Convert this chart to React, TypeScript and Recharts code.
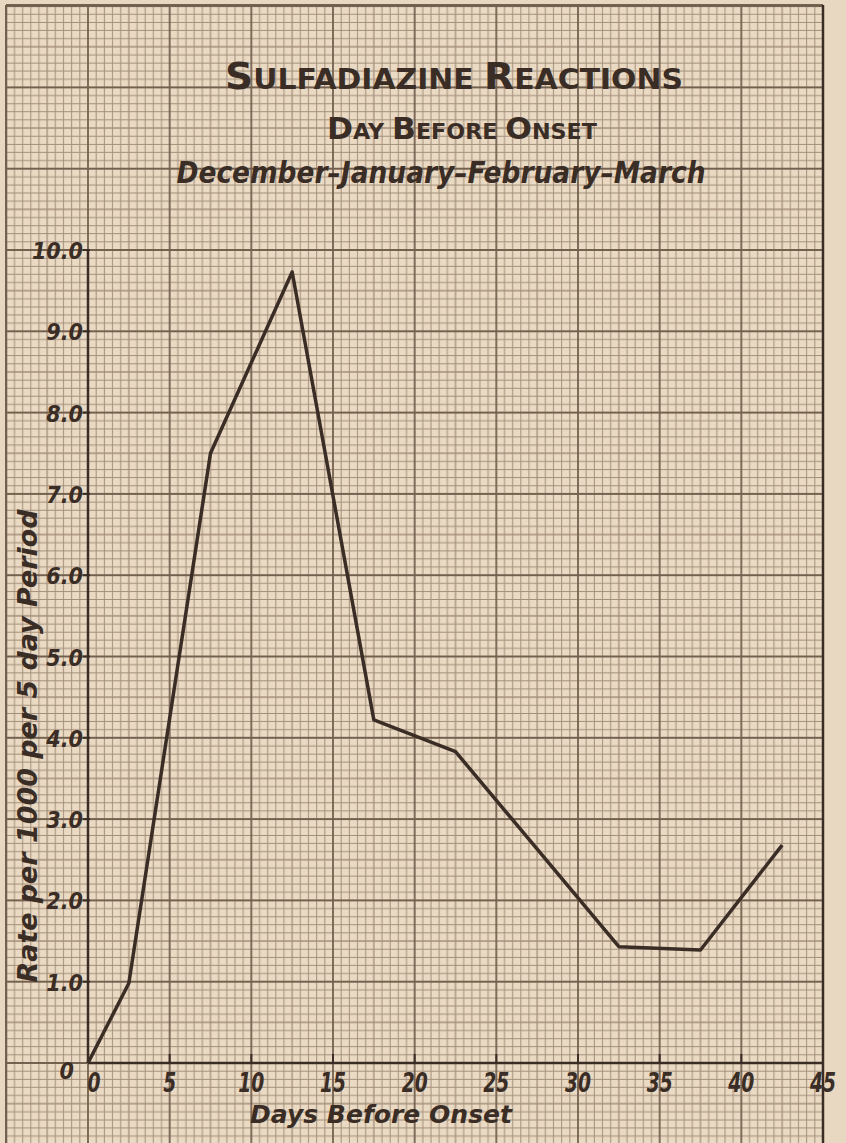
import { LineChart, Line, XAxis, YAxis } from "recharts"

// days before onset (mid-point of each 5 day period) and rate per 1000
const days = [0, 2.5, 7.5, 12.5, 17.5, 22.5, 32.5, 37.5, 42.5]
const rates = [0, 0.98, 7.5, 9.73, 4.22, 3.83, 1.43, 1.39, 2.68]

const xTicks = [0, 5, 10, 15, 20, 25, 30, 35, 40, 45]
const yTicks = [0, 1, 2, 3, 4, 5, 6, 7, 8, 9, 10]
const yTickLabels = ["0", "1.0", "2.0", "3.0", "4.0", "5.0", "6.0", "7.0", "8.0", "9.0", "10.0"]

const titleText = "SULFADIAZINE REACTIONS"
const subtitleText = "DAY BEFORE ONSET"
const monthsText = "December–January–February–March"
const xLabel = "Days Before Onset"
const yLabel = "Rate per 1000 per 5 day Period"

const W = 846
const H = 1143
const INK = "#3a2d25"
const PAPER = "#eadac3"
const FINE = "#a38e7a"
const HEAVY = "#74604f"
const FONT = "'DejaVu Sans', sans-serif"
const NARROW = "'DejaVu Sans Condensed', 'DejaVu Sans', sans-serif"

// plot frame (pixels)
const LEFT = 88
const RIGHT = 823
const TOP = 250
const BOTTOM = 1063
const CW = (RIGHT - LEFT) / 9
const CH = (BOTTOM - TOP) / 10
const AXIS_W = 60
const AXIS_H = 60

const data = days.map((day, i) => ({ day, rate: rates[i] }))

function XTick(props: any) {
  const { x, y, payload } = props
  const v = payload.value
  const label = String(v)
  return (
    <g>
      {v > 0 && v < 45 && (
        <line x1={x} x2={x} y1={y} y2={y - 9} stroke={INK} strokeWidth={2} />
      )}
      <text
        x={x + (v === 0 ? 6 : 0)}
        y={y + 29}
        textAnchor="middle"
        textLength={label.length * 13}
        lengthAdjust="spacingAndGlyphs"
        fontFamily={NARROW}
        fontStyle="italic"
        fontWeight="bold"
        fontSize={26}
        fill={INK}
      >
        {label}
      </text>
    </g>
  )
}

function YTick(props: any) {
  const { x, y, payload, index } = props
  return (
    <g>
      {payload.value > 0 && (
        <line x1={x - 5} x2={x + 2} y1={y} y2={y} stroke={INK} strokeWidth={2} />
      )}
      <text
        x={x - (payload.value === 0 ? 14 : 5)}
        y={y + (payload.value === 0 ? 16 : 9)}
        textAnchor="end"
        fontFamily={NARROW}
        fontStyle="italic"
        fontWeight="bold"
        fontSize={23}
        fill={INK}
      >
        {yTickLabels[index]}
      </text>
    </g>
  )
}

function RightTick(props: any) {
  const { x, y, payload } = props
  if (payload.value === 0) return <g />
  return <line x1={x - 8} x2={x} y1={y} y2={y} stroke={INK} strokeWidth={2} />
}

function Paper() {
  const fine = Array.from({ length: 9 }, (_, i) => i + 1)
  return (
    <svg width={W} height={H} style={{ position: "absolute", left: 0, top: 0 }}>
      <defs>
        <pattern
          id="grid"
          patternUnits="userSpaceOnUse"
          x={LEFT}
          y={BOTTOM}
          width={CW}
          height={CH}
        >
          {fine.map((i) => (
            <line key={"v" + i} x1={(i * CW) / 10} x2={(i * CW) / 10} y1={0} y2={CH}
              stroke={FINE} strokeWidth={i === 5 ? 1.3 : 1} />
          ))}
          {fine.map((i) => (
            <line key={"h" + i} y1={(i * CH) / 10} y2={(i * CH) / 10} x1={0} x2={CW}
              stroke={FINE} strokeWidth={i === 5 ? 1.3 : 1} />
          ))}
          <line x1={0} x2={0} y1={0} y2={CH} stroke={HEAVY} strokeWidth={1.8} />
          <line x1={CW} x2={CW} y1={0} y2={CH} stroke={HEAVY} strokeWidth={1.8} />
          <line x1={0} x2={CW} y1={0} y2={0} stroke={HEAVY} strokeWidth={1.8} />
          <line x1={0} x2={CW} y1={CH} y2={CH} stroke={HEAVY} strokeWidth={1.8} />
        </pattern>
      </defs>
      <rect x={0} y={0} width={W} height={H} fill="#e8d7c1" />
      <rect x={6} y={5} width={RIGHT - 6} height={H - 5} fill={PAPER} />
      <rect x={6} y={5} width={RIGHT - 6} height={H - 5} fill="url(#grid)" />
      <line x1={6} x2={RIGHT} y1={5} y2={5} stroke={HEAVY} strokeWidth={2} />
      <line x1={6} x2={6} y1={5} y2={H} stroke={HEAVY} strokeWidth={2} />
      <line x1={RIGHT} x2={RIGHT} y1={5} y2={H} stroke={INK} strokeWidth={2.5} />
    </svg>
  )
}

function Labels() {
  return (
    <svg width={W} height={H} style={{ position: "absolute", left: 0, top: 0, pointerEvents: "none" }}>
      <text x={454} y={89} textAnchor="middle" textLength={458} lengthAdjust="spacingAndGlyphs"
        fontFamily={FONT} fontWeight="bold" fill={INK}>
        <tspan fontSize={38}>{titleText.slice(0, 1)}</tspan>
        <tspan fontSize={29}>{titleText.slice(1, 13)}</tspan>
        <tspan fontSize={38}>{titleText.slice(13, 14)}</tspan>
        <tspan fontSize={29}>{titleText.slice(14)}</tspan>
      </text>
      <text x={462} y={139} textAnchor="middle" textLength={270} lengthAdjust="spacingAndGlyphs"
        fontFamily={FONT} fontWeight="bold" fill={INK}>
        <tspan fontSize={31}>{subtitleText.slice(0, 1)}</tspan>
        <tspan fontSize={22}>{subtitleText.slice(1, 4)}</tspan>
        <tspan fontSize={31}>{subtitleText.slice(4, 5)}</tspan>
        <tspan fontSize={22}>{subtitleText.slice(5, 11)}</tspan>
        <tspan fontSize={31}>{subtitleText.slice(11, 12)}</tspan>
        <tspan fontSize={22}>{subtitleText.slice(12)}</tspan>
      </text>
      <text x={441} y={183} textAnchor="middle" textLength={529} lengthAdjust="spacingAndGlyphs"
        fontFamily={FONT} fontStyle="italic" fontWeight="bold" fontSize={31} fill={INK}>
        {monthsText}
      </text>
      <text x={381} y={1123} textAnchor="middle" textLength={262} lengthAdjust="spacingAndGlyphs"
        fontFamily={FONT} fontStyle="italic" fontWeight="bold" fontSize={25} fill={INK}>
        {xLabel}
      </text>
      <text transform="rotate(-90)" x={-746} y={37} textAnchor="middle" textLength={473}
        lengthAdjust="spacingAndGlyphs" fontFamily={FONT} fontStyle="italic" fontWeight="bold"
        fontSize={27} fill={INK}>
        {yLabel}
      </text>
    </svg>
  )
}

export default function App() {
  return (
    <div style={{ position: "absolute", left: 0, top: 0, width: W, height: H, overflow: "hidden" }}>
      <Paper />
      <div style={{ position: "absolute", left: 0, top: 0 }}>
        <LineChart
          width={W}
          height={H}
          data={data}
          margin={{
            top: TOP,
            right: W - RIGHT - AXIS_W,
            bottom: H - BOTTOM - AXIS_H,
            left: LEFT - AXIS_W,
          }}
        >
          <XAxis
            dataKey="day"
            type="number"
            domain={[0, 45]}
            ticks={xTicks}
            height={AXIS_H}
            tickSize={0}
            tickMargin={0}
            tick={<XTick />}
            axisLine={{ stroke: INK, strokeWidth: 2.5 }}
            interval={0}
          />
          <YAxis
            type="number"
            domain={[0, 10]}
            ticks={yTicks}
            width={AXIS_W}
            tickSize={0}
            tickMargin={0}
            tick={<YTick />}
            axisLine={{ stroke: INK, strokeWidth: 2.5 }}
            interval={0}
          />
          <YAxis
            yAxisId="right"
            orientation="right"
            type="number"
            domain={[0, 10]}
            ticks={yTicks}
            width={AXIS_W}
            tickSize={0}
            tickMargin={0}
            tick={<RightTick />}
            axisLine={false}
            interval={0}
          />
          <Line
            type="linear"
            dataKey="rate"
            stroke={INK}
            strokeWidth={3.5}
            strokeLinejoin="round"
            dot={false}
            isAnimationActive={false}
          />
        </LineChart>
      </div>
      <Labels />
    </div>
  )
}
